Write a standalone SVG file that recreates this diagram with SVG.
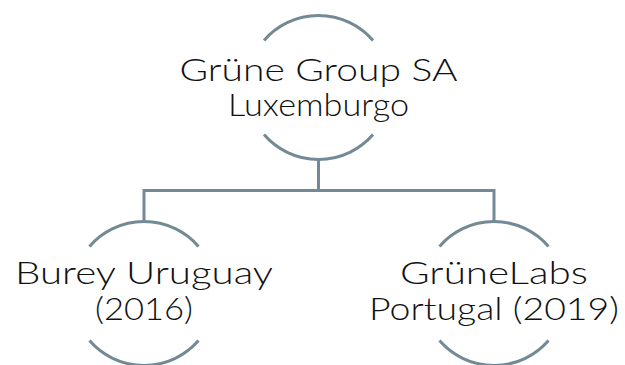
<svg xmlns="http://www.w3.org/2000/svg" width="625" height="365" viewBox="0 0 625 365">
<style>
.arc{fill:none;stroke:#738a96;stroke-width:3}
.conn{fill:none;stroke:#738a96;stroke-width:3}
.lbl{font-family:Lato,"Open Sans","Liberation Sans",sans-serif;font-weight:300;font-size:31px;fill:#111;text-anchor:middle}
</style>
<rect width="625" height="365" fill="#fff"/>
<g id="connectors">
<path class="conn" d="M318.5,159.5 V190.5"/>
<path class="conn" d="M144,221.5 V190.5 H494 V221.5"/>
</g>
<g id="node-grune-group">
<path class="arc" d="M264,40.5 A72,72 0 0 1 373,40.5"/>
<path class="arc" d="M264,134.5 A72,72 0 0 0 373,134.5"/>
<text class="lbl" x="318.5" y="81" textLength="278" lengthAdjust="spacingAndGlyphs">Grüne Group SA</text>
<text class="lbl" x="318.5" y="116" textLength="181" lengthAdjust="spacingAndGlyphs">Luxemburgo</text>
</g>
<g id="node-burey">
<path class="arc" d="M89.5,246.5 A72,72 0 0 1 198.5,246.5"/>
<path class="arc" d="M89.5,340.5 A72,72 0 0 0 198.5,340.5"/>
<text class="lbl" x="144" y="284" textLength="258" lengthAdjust="spacingAndGlyphs">Burey Uruguay</text>
<text class="lbl" x="144" y="320" textLength="98" lengthAdjust="spacingAndGlyphs">(2016)</text>
</g>
<g id="node-grunelabs">
<path class="arc" d="M439.5,246.5 A72,72 0 0 1 548.5,246.5"/>
<path class="arc" d="M439.5,340.5 A72,72 0 0 0 548.5,340.5"/>
<text class="lbl" x="494" y="284" textLength="188" lengthAdjust="spacingAndGlyphs">GrüneLabs</text>
<text class="lbl" x="494" y="320" textLength="250" lengthAdjust="spacingAndGlyphs">Portugal (2019)</text>
</g>
</svg>
